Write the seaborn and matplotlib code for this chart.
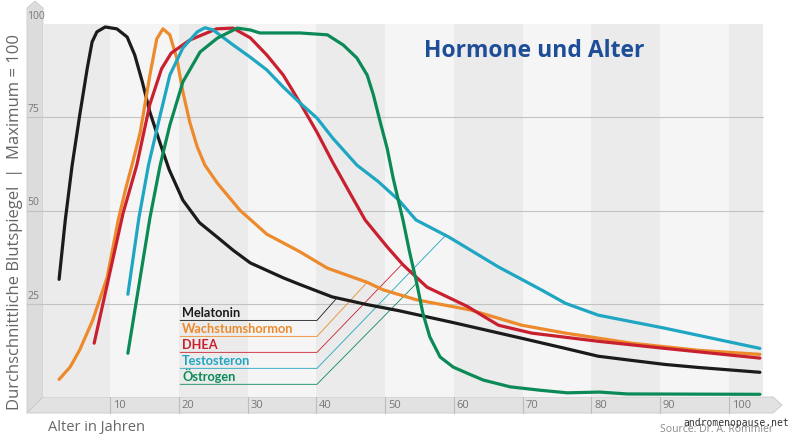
import matplotlib.pyplot as plt
import matplotlib.patches as mpatches
import numpy as np
import pandas as pd
import seaborn as sns

# values (age in years, blood level with max = 100)
melatonin_age = [2.6, 3.5, 4.5, 5.6, 6.7, 7.4, 8.1, 9.3, 11.0, 12.5, 13.6, 14.7, 15.8, 17.3,
                 18.6, 20.6, 23.0, 25.6, 27.9, 30.4, 32.8, 35.2, 37.5, 42.3, 47.2, 52.0, 59.7,
                 69.9, 76.2, 81.0, 85.8, 90.7, 95.5, 104.5]
melatonin = [31.6, 47.5, 62.2, 75.6, 88.2, 95.2, 97.9, 99.2, 98.7, 96.5, 91.7, 84.5, 76.4, 68.0,
             61.0, 52.8, 46.8, 42.9, 39.4, 36.0, 34.0, 32.0, 30.3, 26.9, 24.9, 23.2, 20.1,
             15.8, 13.1, 11.0, 9.9, 8.8, 8.0, 6.7]

growth_age = [2.6, 4.2, 5.6, 7.5, 9.6, 11.2, 12.3, 13.2, 14.4, 15.8, 16.8, 17.7, 18.7, 19.7,
              20.6, 21.6, 22.7, 23.8, 25.6, 28.9, 32.8, 37.6, 41.6, 47.4, 49.7, 54.6, 62.4,
              69.9, 76.2, 85.8, 95.5, 104.5]
growth = [4.8, 8.1, 12.7, 20.7, 32.2, 47.5, 56.0, 62.2, 71.0, 86.3, 96.0, 98.7, 97.1, 90.9,
          81.8, 73.7, 67.0, 62.2, 57.4, 50.1, 43.7, 39.0, 34.6, 30.8, 28.8, 26.1, 23.4,
          19.3, 17.2, 14.5, 12.6, 11.5]

dhea_age = [7.7, 11.9, 13.9, 15.8, 17.5, 18.9, 21.6, 25.5, 27.9, 30.4, 32.8, 35.2, 37.6, 40.1,
            42.4, 44.8, 47.1, 50.3, 52.6, 56.1, 59.4, 62.0, 64.5, 66.5, 71.3, 81.0, 90.7, 104.5]
dhea = [14.5, 49.3, 62.2, 78.5, 88.0, 92.2, 95.7, 98.7, 98.9, 96.3, 91.7, 86.3, 79.0, 71.0,
        62.9, 55.0, 47.5, 40.3, 35.5, 29.5, 26.6, 24.3, 21.5, 19.3, 17.2, 15.0, 13.1, 10.5]

testo_age = [12.6, 14.2, 15.6, 17.3, 18.7, 20.6, 22.7, 23.8, 25.0, 27.9, 30.4, 32.8, 35.2,
             37.6, 40.1, 42.4, 45.9, 49.0, 52.0, 54.5, 59.3, 66.5, 72.8, 76.2, 81.0, 90.7, 104.5]
testo = [27.6, 48.0, 62.2, 75.6, 86.3, 93.6, 97.9, 99.0, 98.4, 94.4, 91.1, 87.7, 83.1,
         78.9, 74.8, 69.4, 62.2, 57.8, 52.8, 47.5, 42.9, 34.9, 28.7, 25.2, 22.0, 18.5, 13.1]

estro_age = [12.6, 15.8, 17.3, 18.7, 20.6, 23.1, 25.6, 28.5, 30.4, 31.8, 34.3, 37.6, 41.6,
             43.9, 45.9, 47.4, 48.3, 49.3, 50.3, 51.2, 52.6, 53.6, 54.6, 55.5, 56.5, 58.0,
             59.9, 62.0, 64.3, 68.2, 72.5, 76.5, 81.2, 85.2, 104.5]
estro = [11.8, 48.0, 62.2, 72.9, 84.5, 92.5, 96.2, 98.9, 98.4, 97.6, 97.6, 97.6, 97.1,
         94.4, 90.9, 86.3, 81.0, 73.7, 66.7, 58.5, 47.5, 38.6, 30.6, 22.5, 16.2, 10.8,
         8.1, 6.4, 4.6, 2.8, 1.9, 1.2, 1.4, 0.9, 0.8]

names = ['Melatonin', 'Wachstumshormon', 'DHEA', 'Testosteron', 'Östrogen']
colors = ['#1b1b1b', '#ec8a2c', '#c9202f', '#1fa6c2', '#0b8a57']
leader_age = [43.0, 47.4, 52.5, 58.8, 54.6]   # where the legend leader meets each curve

x_ticks = [10, 20, 30, 40, 50, 60, 70, 80, 90, 100]
y_ticks = [25, 50, 75, 100]

series = [(melatonin_age, melatonin), (growth_age, growth), (dhea_age, dhea),
          (testo_age, testo), (estro_age, estro)]
df = pd.concat([pd.DataFrame({'Alter': a, 'Wert': v, 'Hormon': n})
                for n, (a, v) in zip(names, series)], ignore_index=True)

sns.set_theme(style='white')
plt.rcParams['font.family'] = ['Open Sans', 'DejaVu Sans']

W, H = 800, 441
fig = plt.figure(figsize=(8, 4.41), dpi=100)

# background layer in pixel coordinates (3d-ish axis bands)
bg = fig.add_axes([0, 0, 1, 1], zorder=0)
bg.set_xlim(0, W)
bg.set_ylim(H, 0)
bg.axis('off')
bg.add_patch(mpatches.Polygon([(27, 413), (27, 8), (35, 1), (43, 8), (43, 397)],
                              facecolor='#dcdcdc', edgecolor='#cccccc', lw=0.6))
bg.add_patch(mpatches.Polygon([(27, 413), (43, 397), (773, 397), (782, 405), (773, 413)],
                              facecolor='#e2e2e2', edgecolor='#c8c8c8', lw=0.6))

ax = fig.add_axes([43 / W, (H - 397.3) / H, (763 - 43) / W, (397.3 - 24) / H], zorder=1)
ax.set_facecolor('none')
ax.set_xlim(0.26, 104.95)
ax.set_ylim(0, 100)

# alternating decade stripes
for i, d in enumerate(range(0, 110, 10)):
    ax.axvspan(d, min(d + 10, 104.95), color='#ebebeb' if i % 2 == 0 else '#f5f5f5',
               lw=0, zorder=0)

for v in y_ticks:
    if v < 100:
        ax.plot([-2.06, 104.95], [v, v], color='#c2c2c2', lw=0.8, clip_on=False, zorder=1)
    ax.text(-2.0, v + 0.6, str(v), ha='left', va='bottom', fontsize=7.5, color='#777777')

for t in x_ticks:
    ax.plot([t, t], [0, -4.3], color='#bdbdbd', lw=0.8, clip_on=False, zorder=1)
    ax.text(t + 0.4, -2.3, str(t), ha='left', va='center', fontsize=8, color='#777777')

sns.lineplot(data=df, x='Alter', y='Wert', hue='Hormon', hue_order=names,
             palette=colors, estimator=None, sort=False, lw=2.3, legend=False,
             ax=ax, zorder=3)
for line in ax.get_lines()[-5:]:
    line.set_solid_capstyle('round')
    line.set_solid_joinstyle('round')

# legend labels with leader lines to the curves
for i, (n, c, la, (a, v)) in enumerate(zip(names, colors, leader_age, series)):
    yl = 20.6 - i * 4.28
    ty = np.interp(la, a, v)
    ax.plot([20.2, 40.1, la], [yl, yl, ty], color=c, lw=0.6, zorder=2)
    ax.text(20.5, yl + 0.3, n, color=c, fontsize=9.2, fontweight='bold',
            family=['Lato', 'DejaVu Sans'], ha='left', va='bottom', zorder=4)

ax.set_xticks([])
ax.set_yticks([])
ax.set_xlabel('')
ax.set_ylabel('')
sns.despine(ax=ax, left=True, bottom=True)

# foreground texts in pixel coordinates
fg = fig.add_axes([0, 0, 1, 1], zorder=5)
fg.set_xlim(0, W)
fg.set_ylim(H, 0)
fg.axis('off')
fg.text(424, 51, 'Hormone und Alter', fontsize=16.5, fontweight='bold', color='#1f4e98',
        ha='left', va='center')
fg.text(15, 222, 'Durchschnittliche Blutspiegel  |  Maximum = 100', rotation=90,
        ha='center', va='center', fontsize=12, color='#666666')
fg.text(48, 427, 'Alter in Jahren', ha='left', va='center', fontsize=10.5, color='#666666')
fg.text(660, 430, 'Source: Dr. A. Römmler', ha='left', va='center', fontsize=7.5,
        color='#8a8a8a')
fg.text(683, 423, 'andromenopause.net', ha='left', va='center', fontsize=7,
        color='#333333', family='DejaVu Sans Mono')

fig.savefig('out.png', dpi=100)
